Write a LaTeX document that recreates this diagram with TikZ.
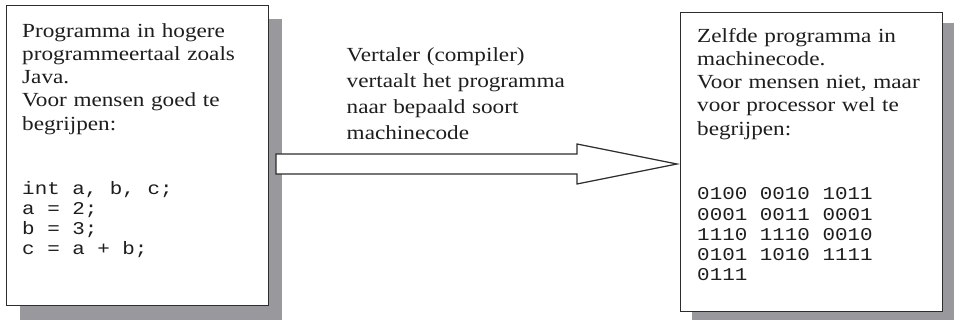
\documentclass[tikz,border=0pt]{standalone}
\usepackage{fontspec}
\setmainfont[FakeStretch=1.16]{Liberation Serif}
\setmonofont{Liberation Mono}
\usetikzlibrary{calc}
\definecolor{boxline}{RGB}{45,45,45}
\definecolor{shadowgray}{RGB}{153,153,157}
\definecolor{textcol}{RGB}{30,30,30}
\newcommand\msp{\hspace*{0.6em}}
\begin{document}
\begin{tikzpicture}[x=1pt,y=1pt,
  shade/.style={fill=shadowgray, draw=none},
  box/.style={draw=boxline, line width=1.4pt, fill=white, inner sep=0pt, anchor=north west},
  prose/.style={anchor=base west, inner sep=0pt, text width=300pt, align=left,
    font=\fontsize{20}{23.2}\selectfont, text=textcol},
  midtext/.style={prose, font=\fontsize{20}{25.9}\selectfont},
  code/.style={anchor=base west, inner sep=0pt, text width=300pt, align=left,
    font=\fontsize{18}{20.1}\selectfont\ttfamily, text=textcol, transform shape},
  blockarrow/.style={draw=boxline, line width=1.2pt, fill=white, line join=miter}
]
\useasboundingbox (0,0) rectangle (954,-320);
% shadows
\fill[shade] (19.5,-19) rectangle (282,-320);
\fill[shade] (692,-23) rectangle (954,-320);
% block arrow
\coordinate (tail) at (276,-164);
\coordinate (tip) at (677,-164);
\draw[blockarrow] ([yshift=10pt]tail) -- ([xshift=-100pt,yshift=10pt]tip)
  -- ([xshift=-100pt,yshift=20pt]tip) -- (tip)
  -- ([xshift=-100pt,yshift=-20pt]tip) -- ([xshift=-100pt,yshift=-10pt]tip)
  -- ([yshift=-10pt]tail) -- cycle;
% boxes
\node[box, minimum width=262pt, minimum height=300pt] (left) at (5.5,-5) {};
\node[box, minimum width=262pt, minimum height=299pt] (right) at (680,-12) {};
% texts
\node[prose] (lefttext) at (22,-37.3) {Programma in hogere\\programmeertaal zoals\\Java.\\Voor mensen goed te\\begrijpen:};
\begin{scope}[shift={(22,-194.3)}, xscale=1.16]
\node[code] (leftcode) at (0,0) {int\msp a,\msp b,\msp c;\\a\msp =\msp 2;\\b\msp =\msp 3;\\c\msp =\msp a\msp +\msp b;};
\end{scope}
\node[midtext] (mid) at (346.5,-61.7) {Vertaler (compiler)\\vertaalt het programma\\naar bepaald soort\\machinecode};
\node[prose] (righttext) at (697,-42.3) {Zelfde programma in\\machinecode.\\Voor mensen niet, maar\\voor processor wel te\\begrijpen:};
\begin{scope}[shift={(697,-200)}, xscale=1.16]
\node[code] (rightcode) at (0,0) {0100\msp 0010\msp 1011\\0001\msp 0011\msp 0001\\1110\msp 1110\msp 0010\\0101\msp 1010\msp 1111\\0111};
\end{scope}
\end{tikzpicture}
\end{document}
